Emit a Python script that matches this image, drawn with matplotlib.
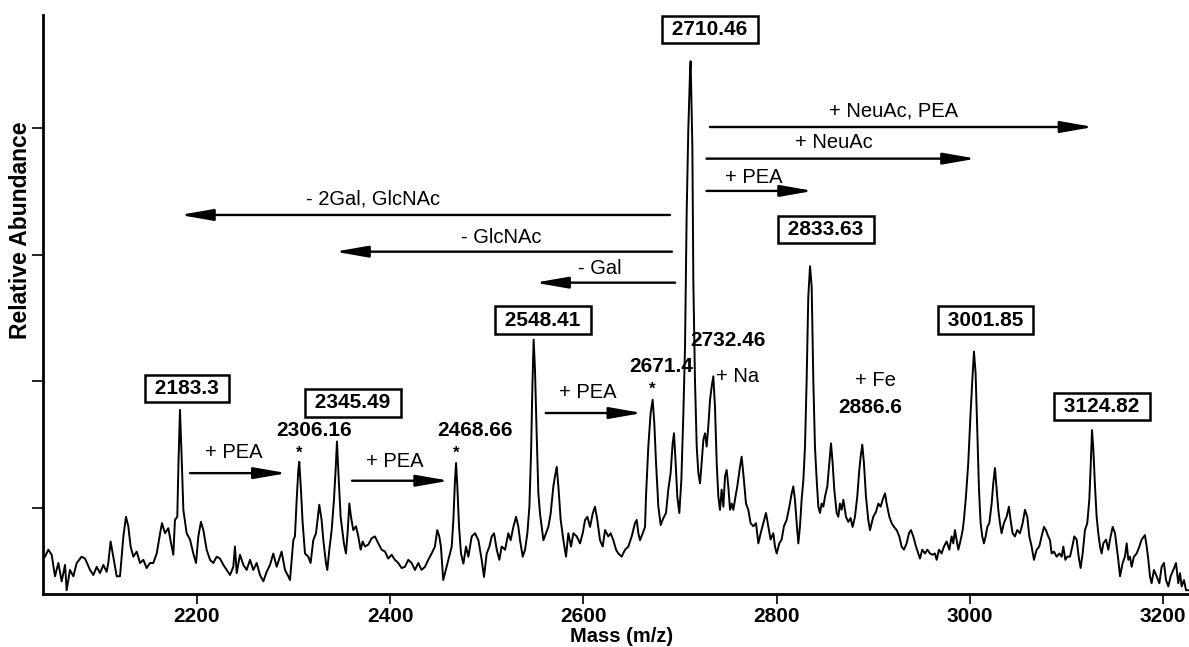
import matplotlib.pyplot as plt

# spectrum trace (m/z, relative abundance in arbitrary units)
mass = [
    2042.7, 2046.1, 2049.6, 2053.0, 2056.5, 2059.9, 2063.4, 2065.1, 2068.5, 2072.0,
    2075.5, 2080.6, 2084.1, 2089.3, 2092.7, 2096.2, 2099.6, 2103.1, 2106.5, 2108.2,
    2110.6, 2113.4, 2116.9, 2120.3, 2123.8, 2126.5, 2128.9, 2131.3, 2134.1, 2137.6,
    2141.0, 2144.5, 2147.9, 2151.4, 2154.8, 2158.3, 2162.4, 2163.8, 2166.9, 2170.3,
    2173.8, 2175.5, 2177.2, 2179.6, 2181.0, 2182.4, 2184.1, 2185.9, 2189.3, 2192.8,
    2196.2, 2199.0, 2201.4, 2204.1, 2206.6, 2210.0, 2213.5, 2216.9, 2220.4, 2223.8,
    2227.3, 2230.7, 2234.2, 2237.6, 2239.3, 2241.1, 2244.5, 2248.0, 2251.4, 2254.9,
    2258.3, 2261.8, 2265.2, 2268.7, 2272.1, 2275.6, 2279.0, 2282.5, 2285.9, 2287.6,
    2291.1, 2294.5, 2296.3, 2298.0, 2299.7, 2301.4, 2303.2, 2304.9, 2305.9, 2307.6,
    2309.4, 2311.8, 2315.2, 2317.6, 2320.4, 2323.2, 2325.6, 2326.6, 2329.0, 2330.8,
    2333.5, 2334.9, 2337.0, 2339.4, 2341.8, 2343.5, 2344.9, 2346.6, 2348.7, 2350.4,
    2352.1, 2354.2, 2355.9, 2357.7, 2359.4, 2361.8, 2364.6, 2367.0, 2369.4, 2371.5,
    2373.9, 2377.3, 2380.8, 2384.2, 2387.7, 2391.1, 2394.6, 2398.0, 2401.5, 2404.9,
    2408.4, 2411.8, 2415.3, 2418.7, 2422.2, 2425.6, 2429.1, 2432.5, 2436.0, 2439.4,
    2442.9, 2446.3, 2448.7, 2450.8, 2452.5, 2454.9,
    2460.2, 2463.7, 2465.4, 2467.1, 2468.2, 2469.5, 2471.3, 2473.3, 2475.8, 2478.5,
    2480.9, 2484.4, 2487.8, 2491.3, 2494.7, 2497.1, 2499.9, 2502.7, 2505.1, 2507.5,
    2510.3, 2513.0, 2515.4, 2518.9, 2522.3, 2524.7, 2527.5, 2530.3, 2532.7, 2534.4,
    2537.2, 2539.6, 2542.0, 2544.1, 2545.8, 2547.2, 2548.5, 2549.9, 2551.7, 2553.4,
    2555.1, 2556.8, 2558.6, 2561.3, 2563.7, 2566.1, 2568.9, 2570.6, 2572.4, 2574.1,
    2576.5, 2579.3, 2582.0, 2584.4, 2587.2, 2589.6, 2593.1, 2596.5, 2599.3, 2601.7,
    2604.1, 2606.9, 2609.6, 2612.0, 2614.4, 2617.2, 2620.0, 2622.4, 2625.8, 2628.2,
    2631.0, 2633.8, 2636.2, 2639.6, 2643.1, 2646.5, 2650.0, 2653.4, 2655.2, 2656.9,
    2658.6, 2661.4, 2663.8,
    2664.8, 2667.2, 2669.6, 2671.7, 2673.4, 2675.2, 2677.6, 2680.0, 2682.8, 2685.5,
    2687.9, 2690.3, 2692.4, 2693.8, 2695.5, 2697.2, 2699.3, 2701.4, 2703.5, 2705.2,
    2706.9, 2708.6, 2710.4, 2711.0, 2712.8, 2713.8, 2715.5, 2717.3, 2719.0, 2720.7,
    2722.4, 2724.2, 2725.9, 2727.6, 2729.3, 2731.1, 2732.8, 2734.5, 2736.2, 2738.0,
    2739.7, 2741.4, 2743.1, 2744.9, 2746.6, 2748.3, 2750.0, 2751.8, 2753.5, 2755.2,
    2756.9, 2759.3, 2762.1, 2763.8, 2765.5, 2768.3, 2770.7, 2773.1, 2775.9, 2778.7,
    2781.1, 2783.5, 2786.3, 2789.0, 2791.4, 2793.8, 2796.6, 2798.3, 2800.1, 2802.8,
    2805.2, 2807.6, 2810.4, 2813.2, 2815.6, 2817.3, 2819.0, 2820.8, 2822.5, 2824.2,
    2825.9, 2827.7, 2829.4, 2831.1, 2832.8, 2834.6, 2836.3, 2838.0, 2839.7, 2841.5,
    2843.2, 2844.9, 2846.6, 2848.4, 2850.1, 2852.5, 2854.6, 2856.3, 2858.0, 2859.7,
    2862.2, 2863.9, 2865.6, 2867.3, 2869.1,
    2871.8, 2874.2, 2876.6, 2878.7, 2881.1, 2883.5, 2885.6, 2887.0, 2888.7, 2890.4,
    2892.5, 2894.9, 2896.7, 2898.4, 2900.1, 2902.9, 2905.3, 2907.7, 2909.8, 2912.2,
    2913.9, 2916.7, 2919.1, 2921.5, 2924.3, 2927.0, 2929.4, 2931.8, 2934.6, 2937.0,
    2939.1, 2941.5, 2944.3, 2946.7, 2948.4, 2950.8, 2953.6, 2956.0, 2958.8, 2961.5,
    2963.9, 2965.7, 2968.1, 2970.8, 2973.2, 2976.0, 2978.8, 2981.2, 2982.9, 2984.6,
    2986.4, 2988.1, 2990.5, 2992.6, 2993.9, 2996.0, 2998.4, 3000.8, 3002.6, 3004.3,
    3006.0, 3007.7, 3009.5, 3011.2, 3012.9, 3014.6, 3016.4, 3018.1, 3020.2, 3022.6,
    3024.3, 3026.0, 3027.8, 3029.5, 3031.2, 3032.9, 3035.3, 3038.1, 3040.5, 3042.2,
    3044.3, 3046.7, 3049.1, 3051.9, 3054.7, 3057.1, 3059.5, 3061.6, 3064.0, 3066.4,
    3069.2, 3071.9, 3074.3, 3076.8, 3078.8, 3081.2, 3083.0,
    3084.7, 3087.1, 3089.9, 3092.7, 3095.1, 3096.8, 3098.9, 3100.9, 3103.7, 3106.1,
    3108.2, 3110.6, 3112.7, 3114.7, 3116.8, 3119.2, 3121.6, 3123.7, 3125.1, 3126.5,
    3127.9, 3129.6, 3131.3, 3133.0, 3134.8, 3136.5, 3138.2, 3141.0, 3143.4, 3145.1,
    3147.9, 3150.3, 3152.0, 3153.7, 3155.5, 3158.2, 3160.6, 3162.4, 3164.1, 3165.8,
    3167.5, 3169.9, 3172.7, 3175.5, 3177.9, 3181.3, 3183.1, 3184.8, 3186.5, 3188.2,
    3190.6, 3193.4, 3196.2, 3198.6, 3201.0, 3203.1, 3205.5, 3207.9, 3210.7, 3213.4,
    3215.8, 3217.6, 3219.3, 3221.7, 3223.8, 3226.2,
]
abundance = [
    12.3, 13.4, 12.6, 9.2, 11.3, 8.4, 11.0, 7.0, 10.2, 9.2,
    11.3, 12.3, 12.0, 10.2, 9.4, 10.7, 9.7, 11.0, 9.9, 11.3,
    14.7, 12.3, 9.2, 9.2, 15.5, 18.6, 17.1, 13.9, 12.3, 13.1,
    11.3, 11.8, 10.5, 11.3, 11.3, 12.8, 16.5, 17.6, 16.0, 16.8,
    13.9, 12.6, 18.1, 18.6, 28.1, 35.5, 28.1, 19.7, 16.0, 15.0,
    12.8, 11.3, 15.5, 17.8, 16.5, 13.4, 11.8, 11.3, 12.3, 12.0,
    11.0, 10.2, 9.4, 10.7, 13.9, 9.7, 12.6, 11.0, 10.2, 11.8,
    10.2, 11.3, 9.4, 8.4, 9.9, 11.0, 12.8, 10.7, 12.3, 13.1,
    10.2, 9.2, 8.6, 11.8, 14.9, 15.5, 21.3, 26.0, 27.3, 22.9,
    17.6, 12.8, 12.3, 11.3, 14.9, 16.0, 19.2, 20.5, 18.1, 14.9,
    11.3, 10.2, 13.4, 16.5, 21.3, 26.0, 30.5, 24.9, 18.6, 16.5,
    14.4, 12.8, 16.0, 20.7, 18.6, 16.5, 17.1, 15.5, 13.4, 14.7,
    13.9, 14.2, 15.2, 15.5, 14.4, 13.4, 13.1, 12.0, 12.6, 11.8,
    11.3, 10.5, 10.7, 11.8, 11.3, 10.2, 11.3, 10.2, 10.7, 11.8,
    12.8, 13.9, 16.5, 15.5, 13.9, 8.6,
    11.8, 13.9, 18.1, 24.4, 27.1, 23.4, 17.0, 12.8, 11.2, 13.9,
    12.3, 15.5, 16.0, 14.9, 11.8, 9.1, 12.8, 13.9, 15.5, 16.0,
    13.4, 11.8, 13.9, 13.4, 16.0, 14.9, 17.0, 18.6, 17.0, 14.9,
    12.3, 13.4, 16.0, 20.2, 28.6, 39.2, 46.6, 41.8, 31.3, 22.3,
    19.1, 17.0, 14.9, 16.0, 17.0, 19.1, 23.4, 25.0, 26.5, 23.4,
    18.1, 14.9, 12.3, 16.0, 13.9, 16.0, 15.5, 14.4, 16.0, 18.1,
    18.6, 17.0, 19.1, 20.2, 18.1, 14.9, 13.9, 16.5, 15.5, 16.0,
    14.9, 13.4, 12.8, 12.3, 13.4, 13.9, 15.5, 17.6, 18.1, 16.0,
    14.9, 16.0, 17.0,
    21.8, 29.7, 35.0, 37.1, 33.4, 27.1, 20.2, 17.3, 18.4, 19.2,
    22.9, 25.5, 30.2, 31.8, 27.1, 21.8, 19.2, 24.4, 35.0, 45.5,
    66.6, 79.8, 89.0, 90.6, 77.1, 56.0, 40.2, 29.7, 25.5, 23.9,
    27.1, 30.8, 31.8, 29.7, 32.9, 37.1, 39.2, 40.8, 36.0, 27.1,
    21.8, 19.7, 22.9, 20.2, 25.0, 26.0, 23.4, 19.7, 20.7, 19.7,
    21.3, 23.4, 26.5, 28.1, 25.5, 20.7, 19.7, 17.6, 17.1, 17.6,
    14.4, 16.0, 17.6, 19.2, 17.1, 15.0, 16.0, 13.9, 12.8, 14.4,
    15.0, 17.1, 18.1, 20.2, 22.3, 23.4, 21.3, 17.6, 14.4, 17.1,
    21.3, 24.4, 29.7, 40.2, 53.4, 58.2, 55.0, 40.2, 29.7, 24.4,
    20.2, 19.2, 20.7, 20.2, 21.8, 23.4, 27.1, 30.2, 27.1, 22.9,
    19.2, 18.6, 20.7, 19.7, 21.3,
    18.6, 17.8, 18.4, 17.0, 18.6, 21.8, 26.0, 28.1, 30.0, 27.1,
    21.8, 18.1, 16.5, 17.6, 18.6, 19.4, 20.7, 20.2, 21.3, 22.3,
    20.7, 18.6, 17.6, 17.0, 16.5, 15.5, 13.9, 13.4, 14.4, 16.0,
    16.5, 15.5, 13.9, 12.8, 12.0, 13.4, 12.8, 13.4, 12.8, 12.6,
    12.8, 11.8, 13.4, 12.8, 13.9, 14.7, 13.4, 15.5, 14.4, 16.5,
    14.9, 13.4, 14.9, 16.5, 18.1, 21.8, 27.1, 35.0, 40.2, 44.7,
    41.3, 32.3, 22.9, 17.6, 15.5, 14.4, 15.5, 17.0, 17.6, 20.7,
    23.9, 26.3, 22.9, 19.7, 17.6, 16.0, 17.6, 18.6, 20.2, 18.1,
    16.0, 15.5, 16.5, 16.0, 17.6, 19.7, 18.6, 15.5, 13.9, 11.8,
    13.4, 13.9, 15.5, 17.0, 16.5, 15.5, 14.9,
    12.8, 13.1, 12.3, 12.8, 12.3, 13.9, 11.8, 12.3, 12.3, 13.9,
    15.5, 15.0, 12.3, 10.5, 12.8, 16.5, 17.6, 21.3, 26.5, 32.3,
    29.2, 23.4, 18.6, 16.0, 13.9, 12.8, 14.4, 15.0, 13.4, 15.0,
    17.0, 16.0, 13.9, 11.8, 9.2, 11.3, 12.3, 14.4, 11.8, 12.3,
    10.7, 12.3, 12.8, 13.9, 15.0, 15.7, 13.9, 11.8, 9.2, 8.1,
    10.2, 9.2, 8.1, 10.7, 11.3, 8.6, 7.6, 9.2, 10.2, 11.3,
    8.1, 9.7, 7.6, 8.6, 7.0, 7.0,
]
assert len(mass) == len(abundance)

# boxed peak labels
boxed_labels = ["2710.46", "2833.63", "2548.41", "2183.3", "2345.49", "3001.85", "3124.82"]
# plain peak labels
plain_labels = ["2306.16", "2468.66", "2671.4", "2732.46", "2886.6"]
# shift arrows: label, start m/z, end m/z
shift_labels = ["+ NeuAc, PEA", "+ NeuAc", "+ PEA", "- 2Gal, GlcNAc", "- GlcNAc", "- Gal",
                "+ PEA", "+ PEA", "+ PEA"]
shift_start = [2731, 2727.4, 2727.4, 2689.6, 2691.7, 2695, 2192.8, 2360.5, 2561]
shift_end = [3128, 3006.4, 2837.7, 2182.4, 2342.9, 2550, 2293, 2461, 2661]

# layout of the annotations (data coords)
boxed_pos = [(2731, 95.6), (2851, 64.0), (2558, 49.7), (2189.6, 38.9),
             (2361.5, 36.6), (3016.5, 49.7), (3136.8, 36.0)]
plain_pos = [(2321.1, 32.3), (2487.8, 32.3), (2680.3, 42.3), (2749.7, 46.4), (2896.7, 35.8)]
star_pos = [(2305.9, 29.3), (2468.1, 29.2), (2671.7, 39.4)]
shift_level = [80.2, 75.2, 70.1, 66.3, 60.5, 55.6, 25.5, 24.3, 35.0]
shift_text_pos = [(2921.5, 82.8), (2859.4, 77.7), (2776.6, 72.2), (2382, 68.9),
                  (2514.7, 62.7), (2617, 57.9), (2238, 28.7), (2405, 27.4), (2604.8, 38.2)]

plt.rcParams['font.family'] = ['Liberation Sans', 'DejaVu Sans']

fig = plt.figure(figsize=(11.89, 6.47), dpi=100)
ax = fig.add_axes([43 / 1189, 53 / 647, 1146 / 1189, 579 / 647])

ax.plot(mass, abundance, color='black', lw=1.4)

ax.set_xlim(2040.6, 3226.9)
ax.set_ylim(6.4, 97.9)
ax.spines['top'].set_visible(False)
ax.spines['right'].set_visible(False)
ax.spines['left'].set_linewidth(2)
ax.spines['bottom'].set_linewidth(2)

ax.set_xticks([2200, 2400, 2600, 2800, 3000, 3200])
ax.set_yticks([20, 40, 60, 80])
ax.set_yticklabels([])
ax.tick_params(axis='x', length=7, width=1.2, labelsize=15, pad=2)
ax.tick_params(axis='y', length=8, width=1.2)
for lab in ax.get_xticklabels():
    lab.set_fontweight('bold')

ax.set_xlabel('Mass (m/z)', fontsize=14.5, fontweight='bold')
ax.xaxis.set_label_coords(0.505, -0.057)
ax.set_ylabel('Relative Abundance', fontsize=16.5, fontweight='bold')
ax.yaxis.set_label_coords(-0.01, 0.629)

# arrows for mass shifts
for lbl, x0, x1, lvl, (tx, ty) in zip(shift_labels, shift_start, shift_end, shift_level, shift_text_pos):
    ax.annotate('', xy=(x1, lvl), xytext=(x0, lvl),
                arrowprops=dict(arrowstyle='-|>,head_length=2.0,head_width=0.35',
                                lw=1.7, color='black', shrinkA=0, shrinkB=0,
                                mutation_scale=10))
    ax.text(tx, ty, lbl, ha='center', va='center', fontsize=14.5)

for lbl, (tx, ty) in zip(boxed_labels, boxed_pos):
    ax.text(tx, ty, ' ' + lbl + ' ', ha='center', va='center', fontsize=15, fontweight='bold',
            bbox=dict(boxstyle='square,pad=0.2', fc='white', ec='black', lw=1.8))

for lbl, (tx, ty) in zip(plain_labels, plain_pos):
    ax.text(tx, ty, lbl, ha='center', va='center', fontsize=15, fontweight='bold')

for tx, ty in star_pos:
    ax.text(tx, ty - 1.3, '*', ha='center', va='baseline', fontsize=12, fontweight='bold')

ax.text(2737.3, 40.7, '+ Na', ha='left', va='center', fontsize=14.5)
ax.text(2901.9, 40.1, '+ Fe', ha='center', va='center', fontsize=14.5)

fig.savefig('out.png', dpi=100)
